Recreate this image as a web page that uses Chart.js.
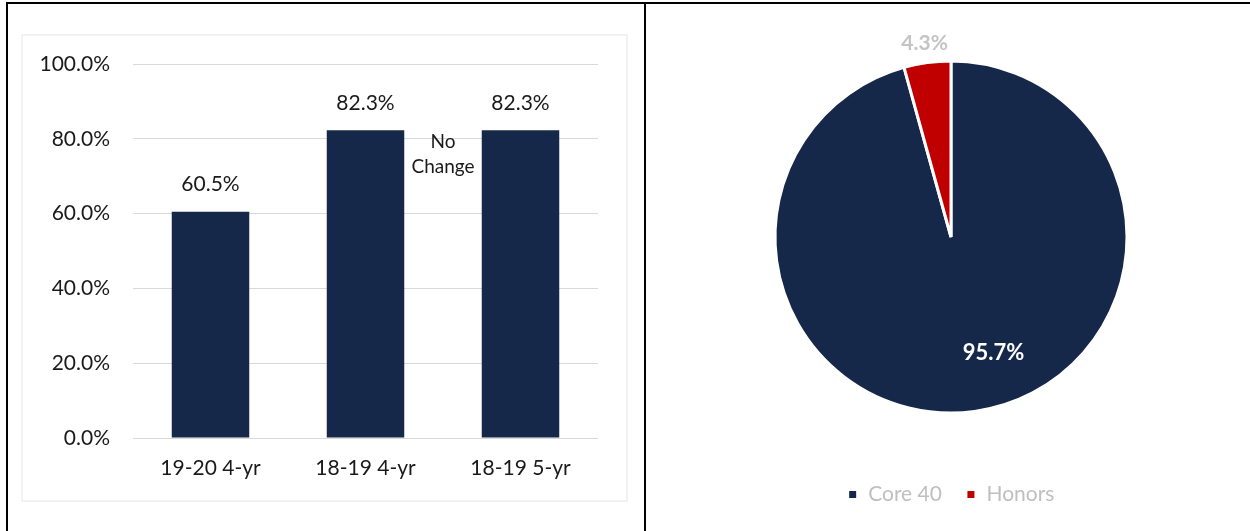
<!DOCTYPE html>
<html>
<head>
<meta charset="utf-8">
<script src="https://cdn.jsdelivr.net/npm/chart.js@4/dist/chart.umd.min.js"></script>
<style>
  body { margin: 0; background: #fff; }
  #page { position: relative; width: 1250px; height: 531px; overflow: hidden; }
  .rule { position: absolute; background: #000; }
  #frame { position: absolute; left: 21px; top: 34px; width: 603px; height: 464px; border: 2px solid #f2f2f2; }
  #barWrap { position: absolute; left: 23px; top: 36px; width: 603px; height: 464px; }
  #pieWrap { position: absolute; left: 647px; top: 5px; width: 603px; height: 526px; }
</style>
</head>
<body>
<div id="page">
  <div class="rule" style="left:6px; top:2px; width:1244px; height:2px;"></div>
  <div class="rule" style="left:6px; top:2px; width:2px; height:529px;"></div>
  <div class="rule" style="left:644px; top:2px; width:2px; height:529px;"></div>
  <div id="frame"></div>
  <div id="barWrap"><canvas id="barChart" width="603" height="464"></canvas></div>
  <div id="pieWrap"><canvas id="pieChart" width="603" height="526"></canvas></div>
</div>
<script>
  // bar chart data
  const barLabels = ['19-20 4-yr', '18-19 4-yr', '18-19 5-yr'];
  const barValues = [60.5, 82.3, 82.3];
  const noteLines = ['No', 'Change'];
  const yMin = 0;
  const yMax = 100;
  const yStep = 20;

  // pie chart data
  const pieLabels = ['Core 40', 'Honors'];
  const pieValues = [95.7, 4.3];

  const NAVY = '#16284a';
  const RED = '#c00000';
  const FONT = 'Lato, "Open Sans", sans-serif';

  const pct = (v) => v.toFixed(1) + '%';

  class Graphics {
    constructor() {
      this.barCtx = document.getElementById('barChart');
      this.pieCtx = document.getElementById('pieChart');
      this.barChart = null;
      this.pieChart = null;
    }

    bar_graphic() {
      const barLabelPlugin = {
        id: 'barLabels',
        afterDatasetsDraw(chart) {
          const ctx = chart.ctx;
          const meta = chart.getDatasetMeta(0);
          ctx.save();
          ctx.font = '21px ' + FONT;
          ctx.fillStyle = '#1a1a1a';
          ctx.textAlign = 'center';
          ctx.textBaseline = 'middle';
          meta.data.forEach((bar, i) => {
            ctx.fillText(pct(barValues[i]), bar.x, bar.y - 27);
          });
          // note between 2nd and 3rd bar
          const xs = chart.scales.x;
          const nx = (xs.getPixelForValue(1) + xs.getPixelForValue(2)) / 2;
          const ny = chart.scales.y.getPixelForValue(barValues[1]);
          ctx.font = '19px ' + FONT;
          noteLines.forEach((line, i) => {
            ctx.fillText(line, nx, ny + 12 + i * 25);
          });
          ctx.restore();
        }
      };

      this.barChart = new Chart(this.barCtx, {
        type: 'bar',
        data: {
          labels: barLabels,
          datasets: [{
            data: barValues,
            backgroundColor: NAVY,
            barPercentage: 0.5,
            categoryPercentage: 1.0,
          }]
        },
        options: {
          responsive: false,
          animation: false,
          layout: { padding: { top: 28, right: 28, left: 0, bottom: 0 } },
          plugins: { legend: { display: false }, tooltip: { enabled: false } },
          scales: {
            x: {
              grid: { display: false, drawTicks: false },
              border: { display: false },
              ticks: { color: '#1a1a1a', font: { family: FONT, size: 21 }, padding: 18 },
              afterFit: (s) => { s.height = 62; s.paddingLeft = 0; s.paddingRight = 0; }
            },
            y: {
              min: yMin,
              max: yMax,
              grid: { color: '#d9d9d9', lineWidth: 1, drawTicks: false },
              border: { display: false },
              ticks: {
                stepSize: yStep,
                color: '#1a1a1a',
                font: { family: FONT, size: 21 },
                padding: 23,
                callback: (v) => pct(v)
              },
              afterFit: (s) => { s.width = 110; s.paddingTop = 0; s.paddingBottom = 0; }
            }
          }
        },
        plugins: [barLabelPlugin]
      });
    }

    pie_graphic() {
      const pieLabelPlugin = {
        id: 'pieLabels',
        afterDatasetsDraw(chart) {
          const ctx = chart.ctx;
          const meta = chart.getDatasetMeta(0);
          ctx.save();
          ctx.textAlign = 'center';
          ctx.textBaseline = 'middle';
          meta.data.forEach((arc, i) => {
            const p = arc.getProps(['x', 'y', 'startAngle', 'endAngle', 'outerRadius'], true);
            let a, r;
            if (i === 0) {
              a = p.startAngle + (p.endAngle - p.startAngle) * 0.464;
              r = p.outerRadius * 0.70;
              ctx.fillStyle = '#ffffff';
              ctx.font = 'bold 22px ' + FONT;
            } else {
              a = (p.startAngle + p.endAngle) / 2;
              r = p.outerRadius + 20;
              ctx.fillStyle = '#c4c4c4';
              ctx.font = 'bold 21px ' + FONT;
            }
            ctx.fillText(pct(pieValues[i]), p.x + Math.cos(a) * r, p.y + Math.sin(a) * r);
          });
          ctx.restore();
        }
      };

      this.pieChart = new Chart(this.pieCtx, {
        type: 'pie',
        data: {
          labels: pieLabels,
          datasets: [{
            data: pieValues,
            backgroundColor: [NAVY, RED],
            borderColor: '#ffffff',
            borderWidth: 3,
            radius: 176,
          }]
        },
        options: {
          responsive: false,
          animation: false,
          layout: { padding: { top: 9, left: 5, right: 0, bottom: 16 } },
          plugins: {
            tooltip: { enabled: false },
            legend: {
              position: 'bottom',
              labels: {
                boxWidth: 10,
                boxHeight: 10,
                padding: 24,
                color: '#bfbfbf',
                font: { family: FONT, size: 21 }
              }
            }
          }
        },
        plugins: [pieLabelPlugin]
      });
    }
  }

  const g = new Graphics();
  g.bar_graphic();
  g.pie_graphic();
</script>
</body>
</html>
